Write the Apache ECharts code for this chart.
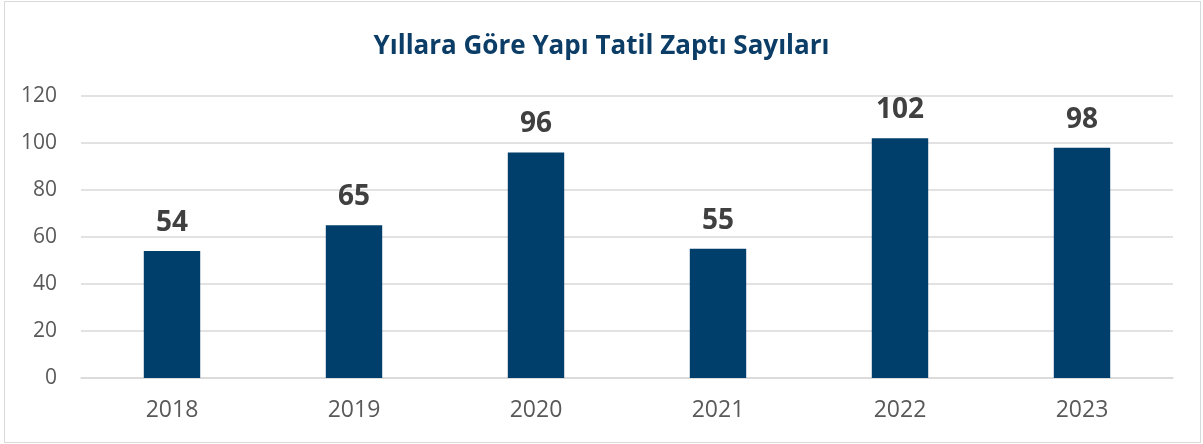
<!DOCTYPE html>
<html>
<head>
<meta charset="utf-8">
<script src="https://cdn.jsdelivr.net/npm/echarts@6/dist/echarts.min.js"></script>
<style>
    html, body { margin: 0; padding: 0; background: #fff; }
    #frame { position: absolute; left: 4px; top: 1px; width: 1195px; height: 440px; border: 1px solid #d9d9d9; }
    #main { position: absolute; left: 0; top: 0; width: 1203px; height: 444px; }
</style>
</head>
<body>
<div id="frame"></div>
<div id="main"></div>
<script>
const years = ['2018', '2019', '2020', '2021', '2022', '2023'];
const counts = [54, 65, 96, 55, 102, 98];

$chart = () => {
    var chartDom = document.getElementById('main');
    var myChart = echarts.init(chartDom);
    var option;

    option = {
        animation: false,
        title: {
            text: 'Yıllara Göre Yapı Tatil Zaptı Sayıları',
            left: 'center',
            top: 29,
            textStyle: {
                fontFamily: 'Open Sans',
                fontSize: 26,
                fontWeight: 'bold',
                color: '#0b3d66'
            }
        },
        grid: {
            left: 81,
            right: 30,
            top: 96,
            bottom: 66
        },
        xAxis: {
            type: 'category',
            data: years,
            axisTick: { show: false },
            axisLine: { lineStyle: { color: '#d9d9d9', width: 1.5 } },
            axisLabel: {
                fontFamily: 'Open Sans',
                fontSize: 23,
                color: '#595959',
                margin: 21
            }
        },
        yAxis: {
            type: 'value',
            min: 0,
            max: 120,
            interval: 20,
            axisLine: { show: false },
            axisTick: { show: false },
            splitLine: { lineStyle: { color: '#d9d9d9', width: 1.5 } },
            axisLabel: {
                fontFamily: 'Open Sans',
                fontSize: 21,
                color: '#595959',
                margin: 24
            }
        },
        series: [
            {
                type: 'bar',
                data: counts,
                barWidth: '31%',
                itemStyle: { color: '#003f6b' },
                label: {
                    show: true,
                    position: 'top',
                    distance: 14,
                    fontFamily: 'Open Sans',
                    fontSize: 28,
                    fontWeight: 'bold',
                    color: '#404040'
                }
            }
        ]
    };

    option && myChart.setOption(option);
}

$chart();
</script>
</body>
</html>
